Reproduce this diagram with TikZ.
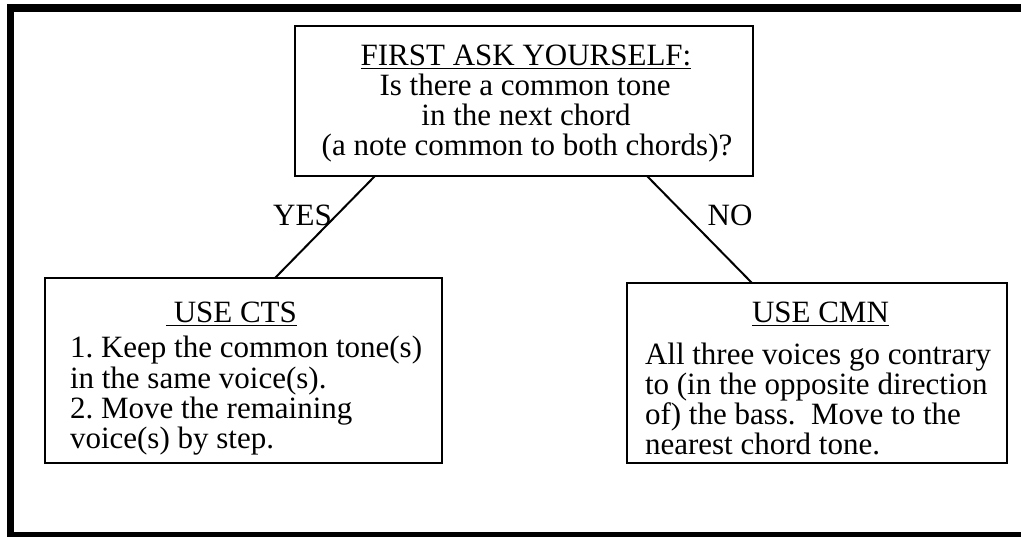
\documentclass[tikz,border=0pt]{standalone}
\usepackage{fontspec}
\setmainfont{Liberation Serif}
\frenchspacing
\newcommand\myul[1]{\setbox0\hbox{#1}\rlap{\rule[-4pt]{\wd0}{1.5pt}}\box0}
\begin{document}
\begin{tikzpicture}[x=1pt,y=-1pt,
  box/.style={draw, line width=2pt, inner sep=0pt, outer sep=0pt},
  ln/.style={font=\fontsize{31}{30}\selectfont, inner sep=0pt, outer sep=0pt},
  conn/.style={line width=2pt}]
\useasboundingbox (0,0) rectangle (1021,536);
% outer frame
\draw[line width=7.5pt] (1040,8) -- (10.5,8) -- (10.5,535.5) -- (1040,535.5);
% boxes
\node[box, minimum width=458pt, minimum height=150pt] (ask) at (524,101) {};
\node[box, minimum width=397pt, minimum height=185pt] (cts) at (243.5,370.5) {};
\node[box, minimum width=380pt, minimum height=180pt] (cmn) at (817,373) {};
% top box text
\node[ln, anchor=base] (a1) at (526,65) {\myul{FIRST ASK YOURSELF:}};
\node[ln, anchor=base] (a2) at (525,95) {Is there a common tone};
\node[ln, anchor=base] (a3) at (526,125) {in the next chord};
\node[ln, anchor=base] (a4) at (527,155) {(a note common to both chords)?};
% left box text
\node[ln, anchor=base west] (c0) at (166,322) {\myul{\ USE CTS}};
\node[ln, anchor=base west] (c1) at (70,357) {1. Keep the common tone(s)};
\node[ln, anchor=base west] (c2) at (70,388) {in the same voice(s).};
\node[ln, anchor=base west] (c3) at (70,418) {2. Move the remaining};
\node[ln, anchor=base west] (c4) at (70,448) {voice(s) by step.};
% right box text
\node[ln, anchor=base west] (m0) at (752,322) {\myul{USE CMN}};
\node[ln, anchor=base west] (m1) at (645,364) {All three voices go contrary};
\node[ln, anchor=base west] (m2) at (645,394) {to (in the opposite direction};
\node[ln, anchor=base west] (m3) at (645,424) {of) the bass.\ \ Move to the};
\node[ln, anchor=base west] (m4) at (645,454) {nearest chord tone.};
% connectors
\draw[conn] ([xshift=80pt]ask.south west) -- ([xshift=230pt]cts.north west);
\draw[conn] ([xshift=352pt]ask.south west) -- ([xshift=125pt]cmn.north west);
\node[ln, anchor=base] (yes) at (302.5,225) {YES};
\node[ln, anchor=base] (no) at (730,225) {NO};
\end{tikzpicture}
\end{document}
